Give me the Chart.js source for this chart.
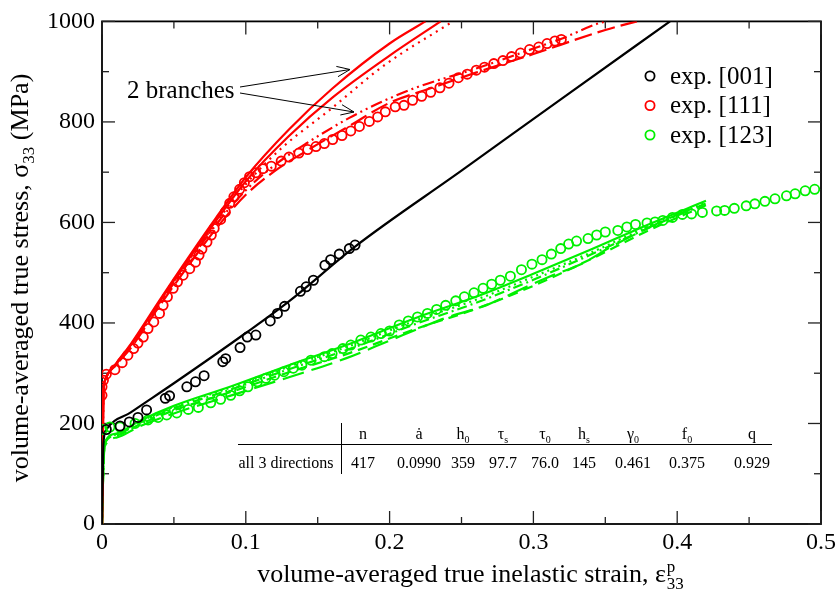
<!DOCTYPE html>
<html>
<head>
<meta charset="utf-8">
<script src="https://cdn.jsdelivr.net/npm/chart.js@4.4.1/dist/chart.umd.min.js"></script>
<style>
  html, body { margin: 0; padding: 0; background: #fff; }
</style>
</head>
<body>
<canvas id="stressChart" width="840" height="590"></canvas>
<script>
// axis ticks
const xTickVals = [0, 0.1, 0.2, 0.3, 0.4, 0.5];
const xTickText = ['0', '0.1', '0.2', '0.3', '0.4', '0.5'];
const xMinorVals = [0.05, 0.15, 0.25, 0.35, 0.45];
const yTickVals = [0, 200, 400, 600, 800, 1000];
const yTickText = ['0', '200', '400', '600', '800', '1000'];
const yMinorVals = [100, 300, 500, 700, 900];

// experiments
const exp001X = [0.003,0.0125,0.019,0.025,0.031,0.044,0.047,0.059,0.065,0.071,0.084,0.086,0.096,0.101,0.107,0.117,0.122,0.127,0.138,0.142,0.147,0.155,0.159,0.165,0.172,0.176];
const exp001Y = [188,195,203,212,227,250,255,273,283,295,323,329,351,372,376,404,419,433,463,472,485,515,526,537,548,555];

const exp111X = [0,0,0.001,0.003,0.009,0.014,0.018,0.022,0.025,0.0287,0.032,0.036,0.040,0.0425,0.0455,0.0495,0.0525,0.0564,0.061,0.065,0.0675,0.0695,0.073,0.076,0.078,0.0825,0.0858,0.0888,0.0917,0.0957,0.099,0.1026,0.107,0.1119,0.1177,0.1246,0.130,0.1369,0.143,0.1488,0.1546,0.1604,0.1669,0.173,0.179,0.1859,0.1917,0.197,0.2039,0.210,0.216,0.2223,0.2286,0.235,0.2413,0.2478,0.254,0.2603,0.266,0.2725,0.2788,0.2848,0.291,0.2973,0.3037,0.3095,0.315,0.3194];
const exp111Y = [256,273,286,298,307,321,336,349,360,372,389,402,419,435,452,469,482,495,508,521,535,547,561,575,588,606,621,638,651,666,679,691,699,707,712,722,730,738,745,751,757,765,773,782,791,801,810,820,830,833,843,851,859,868,877,888,895,903,909,916,922,930,937,944,949,956,961,964];

const exp123X = [0.0002,0.0055,0.0125,0.023,0.032,0.039,0.045,0.052,0.060,0.067,0.0756,0.0825,0.0895,0.0957,0.1015,0.108,0.114,0.120,0.1265,0.133,0.139,0.1453,0.1546,0.160,0.1675,0.173,0.180,0.187,0.194,0.200,0.2067,0.213,0.2194,0.2263,0.2327,0.239,0.246,0.252,0.2587,0.265,0.271,0.277,0.284,0.2917,0.299,0.306,0.3125,0.319,0.3245,0.330,0.338,0.344,0.350,0.3587,0.365,0.371,0.379,0.3846,0.390,0.3967,0.4036,0.410,0.4175,0.4274,0.433,0.4397,0.448,0.454,0.461,0.468,0.476,0.482,0.489,0.4956];
const exp123Y = [188,193,193,200,207,212,217,221,228,232,241,248,256,265,273,283,290,296,303,310,316,326,333,339,349,356,366,372,379,384,396,404,412,419,427,435,444,452,460,469,477,485,493,506,517,526,537,548,557,563,568,575,581,584,591,596,599,601,604,610,616,617,620,623,624,628,633,637,642,647,653,657,663,666];

// simulations [001]
const sim001X = [0, 0.0005, 0.001, 0.003, 0.02, 0.05, 0.1, 0.13, 0.176, 0.25, 0.32, 0.395];
const sim001Y = [0, 90, 160, 188, 222, 280, 380, 443, 552, 703, 847, 1000];

// simulations [111], upper branch
const sim111aX = [0,0.0005,0.001,0.002,0.01,0.02,0.04,0.06,0.08,0.1,0.13,0.16,0.2,0.225];
const sim111aY = [0,150,260,285,320,358,445,530,612,690,785,866,956,1000];
const sim111bX = [0,0.0005,0.001,0.002,0.01,0.02,0.04,0.06,0.08,0.1,0.13,0.16,0.2,0.2355];
const sim111bY = [0,150,260,285,319,356,442,526,606,682,772,848,932,1000];
const sim111cX = [0,0.0005,0.001,0.002,0.01,0.02,0.04,0.06,0.08,0.1,0.1257,0.158,0.196,0.244];
const sim111cY = [0,150,260,285,318,354,440,523,602,676,750,823,912,1000];
// simulations [111], lower branch
const sim111dX = [0,0.0005,0.001,0.002,0.01,0.02,0.04,0.06,0.08,0.1,0.12,0.142,0.172,0.193,0.22,0.26,0.3,0.32,0.343,0.35];
const sim111dY = [0,150,260,285,318,352,438,520,598,664,714,757,808,838,870,906,946,966,994,1000];
const sim111eX = [0,0.0005,0.001,0.002,0.01,0.02,0.04,0.06,0.08,0.1,0.12,0.142,0.172,0.2,0.2275,0.26,0.3,0.35,0.372];
const sim111eY = [0,150,260,285,317,350,434,514,590,655,702,742,792,838,866,898,935,983,1000];

// simulations [123]
const sim123X = [0,0.001,0.002,0.01,0.026,0.05,0.09,0.13,0.17,0.22,0.26,0.3,0.34,0.38,0.42];
const sim123aY = [0,120,162,180,205,235,274,316,356,412,452,498,546,596,643];
const sim123bY = [0,120,162,179,203,233,272,313,352,407,446,492,540,592,640];
const sim123cY = [0,120,162,178,201,230,268,308,346,400,440,486,536,589,638];
const sim123dY = [0,120,160,176,198,226,263,302,338,390,428,474,527,584,634];
const sim123eX = [0,0.001,0.002,0.01,0.026,0.05,0.09,0.13,0.17,0.2,0.223,0.241,0.267,0.29,0.311,0.333,0.355,0.379,0.41];
const sim123eY = [0,115,155,172,194,220,256,292,330,365,392,412,435,465,492,517,553,588,628];

// legend + table text
const legendLabels = ['exp. [001]', 'exp. [111]', 'exp. [123]'];
const tableHead = [['n',''],['ȧ',''],['h','0'],['τ','s'],['τ','0'],['h','s'],['γ','0'],['f','0'],['q','']];
const tableRowLabel = 'all 3 directions';
const tableRow = ['417','0.0990','359','97.7','76.0','145','0.461','0.375','0.929'];

const RED = '#ff0000', GREEN = '#00f000', BLACK = '#000000';
const SERIF = '"Liberation Serif", "DejaVu Serif", serif';

function pts(xs, ys) {
  return xs.map((v, i) => ({ x: v, y: ys[i] }));
}

function expSet(label, xs, ys, color) {
  return {
    label: label,
    data: pts(xs, ys),
    showLine: false,
    pointRadius: 4.6,
    pointHoverRadius: 4.6,
    pointBorderWidth: 1.8,
    pointBorderColor: color,
    pointBackgroundColor: 'rgba(0,0,0,0)'
  };
}

function simSet(xs, ys, color, dash) {
  return {
    data: pts(xs, ys),
    showLine: true,
    pointRadius: 0,
    borderColor: color,
    borderWidth: 2.2,
    borderDash: dash || [],
    cubicInterpolationMode: 'monotone',
    fill: false
  };
}

function line(ctx, x1, y1, x2, y2) {
  ctx.beginPath(); ctx.moveTo(x1, y1); ctx.lineTo(x2, y2); ctx.stroke();
}

function arrow(ctx, x1, y1, x2, y2) {
  line(ctx, x1, y1, x2, y2);
  const ang = Math.atan2(y2 - y1, x2 - x1);
  const L = 14, spread = 0.38;
  line(ctx, x2, y2, x2 - L * Math.cos(ang - spread), y2 - L * Math.sin(ang - spread));
  line(ctx, x2, y2, x2 - L * Math.cos(ang + spread), y2 - L * Math.sin(ang + spread));
}

// letter with subscript, centred on cx
function subText(ctx, main, sub, cx, y, size) {
  ctx.font = size + 'px ' + SERIF;
  const wm = ctx.measureText(main).width;
  ctx.font = Math.round(size * 0.65) + 'px ' + SERIF;
  const ws = sub ? ctx.measureText(sub).width : 0;
  const x0 = cx - (wm + ws) / 2;
  ctx.textAlign = 'left';
  ctx.font = size + 'px ' + SERIF;
  ctx.fillText(main, x0, y);
  if (sub) {
    ctx.font = Math.round(size * 0.65) + 'px ' + SERIF;
    ctx.fillText(sub, x0 + wm, y + 4);
  }
}

const decor = {
  id: 'decor',
  beforeDatasetsDraw(chart) {
    const { ctx, chartArea: a, scales: { x, y } } = chart;
    ctx.save();
    // frame
    ctx.strokeStyle = '#000';
    ctx.lineWidth = 1.8;
    ctx.strokeRect(a.left, a.top, a.right - a.left, a.bottom - a.top);

    // inward ticks on all four sides
    ctx.strokeStyle = '#222';
    ctx.lineWidth = 1.3;
    const tx = (v, len) => {
      const p = x.getPixelForValue(v);
      line(ctx, p, a.bottom, p, a.bottom - len);
      line(ctx, p, a.top, p, a.top + len);
    };
    const ty = (v, len) => {
      const p = y.getPixelForValue(v);
      line(ctx, a.left, p, a.left + len, p);
      line(ctx, a.right, p, a.right - len, p);
    };
    xTickVals.forEach(v => tx(v, 13));
    xMinorVals.forEach(v => tx(v, 7));
    yTickVals.forEach(v => ty(v, 13));
    yMinorVals.forEach(v => ty(v, 7));
    ctx.restore();
  },
  afterDatasetsDraw(chart) {
    const { ctx } = chart;
    ctx.save();
    ctx.fillStyle = '#000';
    ctx.strokeStyle = '#000';
    ctx.textBaseline = 'alphabetic';

    // x axis title
    ctx.font = '26px ' + SERIF;
    const xMain = 'volume-averaged true inelastic strain, ε';
    const wx = ctx.measureText(xMain).width;
    ctx.font = '17px ' + SERIF;
    const wx33 = ctx.measureText('33').width;
    const xs = 470 - (wx + wx33) / 2;
    ctx.textAlign = 'left';
    ctx.font = '26px ' + SERIF;
    ctx.fillText(xMain, xs, 582);
    ctx.font = '17px ' + SERIF;
    ctx.fillText('p', xs + wx + 1, 572);
    ctx.fillText('33', xs + wx + 1, 589);

    // y axis title
    ctx.save();
    ctx.translate(28, 278);
    ctx.rotate(-Math.PI / 2);
    ctx.font = '26px ' + SERIF;
    const yMain = 'volume-averaged true stress, σ';
    const yRest = ' (MPa)';
    const wy = ctx.measureText(yMain).width;
    const wyr = ctx.measureText(yRest).width;
    ctx.font = '17px ' + SERIF;
    const wy33 = ctx.measureText('33').width;
    const ys = -(wy + wy33 + wyr) / 2;
    ctx.font = '26px ' + SERIF;
    ctx.fillText(yMain, ys, 0);
    ctx.fillText(yRest, ys + wy + wy33, 0);
    ctx.font = '17px ' + SERIF;
    ctx.fillText('33', ys + wy, 6);
    ctx.restore();

    // annotation
    ctx.font = '25px ' + SERIF;
    ctx.fillText('2 branches', 127, 98);
    ctx.lineWidth = 1;
    arrow(ctx, 240, 87, 350, 69.5);
    arrow(ctx, 240, 93, 354, 112);

    // legend
    const legColors = [BLACK, RED, GREEN];
    legendLabels.forEach((lab, i) => {
      const cy = 76 + i * 29.5;
      ctx.beginPath();
      ctx.lineWidth = 1.8;
      ctx.strokeStyle = legColors[i];
      ctx.arc(650, cy, 4.6, 0, Math.PI * 2);
      ctx.stroke();
      ctx.fillStyle = '#000';
      ctx.font = '25px ' + SERIF;
      ctx.textBaseline = 'middle';
      ctx.fillText(lab, 670, cy + 1);
    });
    ctx.textBaseline = 'alphabetic';

    // parameter table
    ctx.strokeStyle = '#000';
    ctx.lineWidth = 1;
    line(ctx, 238, 444.5, 772, 444.5);
    line(ctx, 341.5, 423, 341.5, 474);
    const colX = [363, 419, 463, 503, 545, 584, 633, 687, 752];
    tableHead.forEach((h, i) => subText(ctx, h[0], h[1], colX[i], 439, 16));
    ctx.font = '16px ' + SERIF;
    ctx.textAlign = 'center';
    ctx.fillText(tableRowLabel, 286, 468);
    tableRow.forEach((t, i) => ctx.fillText(t, colX[i], 468));

    ctx.restore();
  }
};

const ctx = document.getElementById('stressChart').getContext('2d');
new Chart(ctx, {
  type: 'scatter',
  data: {
    datasets: [
      expSet('exp. [001]', exp001X, exp001Y, BLACK),
      expSet('exp. [111]', exp111X, exp111Y, RED),
      expSet('exp. [123]', exp123X, exp123Y, GREEN),
      simSet(sim001X, sim001Y, BLACK),
      simSet(sim111aX, sim111aY, RED),
      simSet(sim111bX, sim111bY, RED),
      simSet(sim111cX, sim111cY, RED, [2, 5]),
      simSet(sim111dX, sim111dY, RED, [12, 4, 2, 4, 2, 4]),
      simSet(sim111eX, sim111eY, RED, [18, 6]),
      simSet(sim123X, sim123aY, GREEN),
      simSet(sim123X, sim123bY, GREEN, [2, 4]),
      simSet(sim123X, sim123cY, GREEN, [10, 4, 2, 4]),
      simSet(sim123X, sim123dY, GREEN, [10, 6]),
      simSet(sim123eX, sim123eY, GREEN, [22, 8])
    ]
  },
  options: {
    responsive: false,
    animation: false,
    devicePixelRatio: 1,
    events: [],
    layout: { padding: { top: 21, right: 17, left: 0, bottom: 0 } },
    plugins: {
      legend: { display: false },
      tooltip: { enabled: false }
    },
    scales: {
      x: {
        type: 'linear',
        min: 0,
        max: 0.5,
        afterBuildTicks: s => { s.ticks = xTickVals.map(v => ({ value: v })); },
        afterFit: s => { s.height = 66; },
        grid: { display: false, drawTicks: false },
        border: { display: false },
        ticks: {
          autoSkip: false,
          maxRotation: 0,
          padding: 4,
          color: '#000',
          font: { family: SERIF, size: 24 },
          callback: (v, i) => xTickText[i]
        }
      },
      y: {
        type: 'linear',
        min: 0,
        max: 1000,
        afterBuildTicks: s => { s.ticks = yTickVals.map(v => ({ value: v })); },
        afterFit: s => { s.width = 102; },
        grid: { display: false, drawTicks: false },
        border: { display: false },
        ticks: {
          autoSkip: false,
          padding: 7,
          color: '#000',
          font: { family: SERIF, size: 24 },
          callback: (v, i) => yTickText[i]
        }
      }
    }
  },
  plugins: [decor]
});
</script>
</body>
</html>
